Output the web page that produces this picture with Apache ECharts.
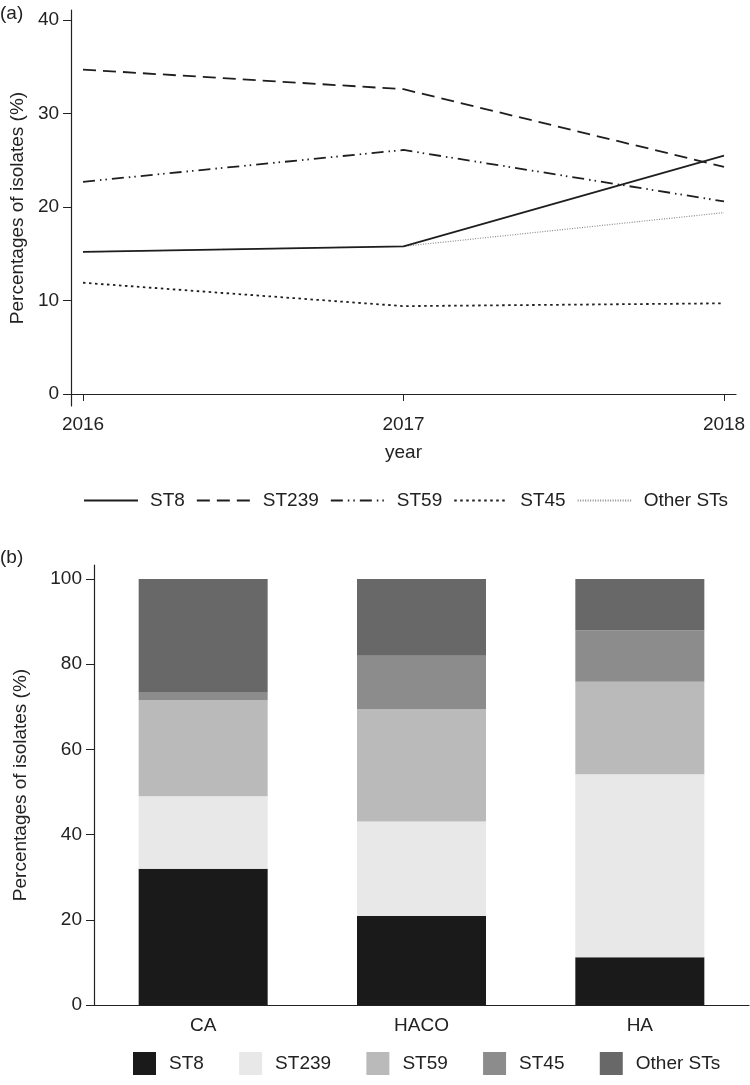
<!DOCTYPE html>
<html>
<head>
<meta charset="utf-8">
<script src="https://cdn.jsdelivr.net/npm/echarts@6/dist/echarts.min.js"></script>
<style>
  html, body { margin: 0; padding: 0; background: #fff; }
  #chart { width: 750px; height: 1085px; }
</style>
</head>
<body>
<div id="chart"></div>
<script>
// (a) yearly share of each ST
const years = [2016, 2017, 2018];
const st8Years = [15.2, 15.8, 25.5];
const st239Years = [34.7, 32.6, 24.3];
const st59Years = [22.7, 26.1, 20.6];
const st45Years = [11.9, 9.4, 9.7];
const otherYears = [15.2, 15.8, 19.4];
const yTicksA = [0, 10, 20, 30, 40];

// (b) share by origin
const origins = ['CA', 'HACO', 'HA'];
const st8Origin = [32.0, 20.9, 11.2];
const st239Origin = [17.0, 22.2, 43.0];
const st59Origin = [22.6, 26.4, 21.7];
const st45Origin = [1.9, 12.5, 12.1];
const otherOrigin = [26.5, 18.0, 12.0];
const yTicksB = [0, 20, 40, 60, 80, 100];

const stNames = ['ST8', 'ST239', 'ST59', 'ST45', 'Other STs'];
const barColors = ['#1a1a1a', '#e8e8e8', '#bababa', '#8c8c8c', '#686868'];

const FONT = 'Liberation Sans, Arial, sans-serif';
const TXT = '#222';
const font = size => ({ fontFamily: FONT, fontSize: size, color: TXT });

const lineStyles = [
    { color: '#1e1e1e', width: 1.8, type: 'solid' },
    { color: '#1e1e1e', width: 1.8, type: [13, 7] },
    { color: '#1e1e1e', width: 1.8, type: [12, 5, 1.5, 4, 1.5, 5] },
    { color: '#1e1e1e', width: 1.8, type: [2.5, 3.5] },
    { color: '#8a8a8a', width: 1.2, type: [1, 1.5] },
];
const lineData = [st8Years, st239Years, st59Years, st45Years, otherYears];
const barData = [st8Origin, st239Origin, st59Origin, st45Origin, otherOrigin];

const chart = echarts.init(document.getElementById('chart'), null, { renderer: 'canvas' });

const option = {
    animation: false,
    backgroundColor: '#fff',
    graphic: [
        { type: 'text', left: 0, top: 4, style: { text: '(a)', ...font(19), fill: TXT } },
        { type: 'text', left: 0, top: 548, style: { text: '(b)', ...font(19), fill: TXT } },
    ],
    grid: [
        { left: 71, right: 14, top: 10, bottom: 679 },
        { left: 94, right: 1, top: 565, bottom: 80 },
    ],
    legend: [
        {
            data: stNames,
            top: 486,
            left: 78,
            itemWidth: 54,
            itemHeight: 20,
            itemGap: 11,
            itemStyle: { color: 'transparent', opacity: 0, borderWidth: 0 },
            textStyle: { ...font(19), padding: [0, 0, 0, 7] },
        },
        {
            data: stNames.map(n => n + ' '),
            top: 1047,
            left: 128,
            itemWidth: 23,
            itemHeight: 23,
            itemGap: 30,
            icon: 'rect',
            textStyle: { ...font(19), padding: [0, 0, 0, 8] },
        },
    ],
    xAxis: [
        {
            gridIndex: 0,
            type: 'value',
            min: 2015.9626,
            max: 2018.0374,
            name: 'year',
            nameLocation: 'middle',
            nameGap: 37,
            nameTextStyle: font(19),
            axisLine: { lineStyle: { color: '#222', width: 1.2 } },
            axisTick: { customValues: years, length: 7, lineStyle: { color: '#222' } },
            axisLabel: { customValues: years, margin: 9, ...font(19), formatter: v => String(v) },
            splitLine: { show: false },
        },
        {
            gridIndex: 1,
            type: 'category',
            data: origins,
            axisLine: { lineStyle: { color: '#222', width: 1.2 } },
            axisTick: { show: false },
            axisLabel: { margin: 11, ...font(19) },
        },
    ],
    yAxis: [
        {
            gridIndex: 0,
            type: 'value',
            min: -1.28,
            max: 41.07,
            name: 'Percentages of isolates (%)',
            nameLocation: 'middle',
            nameGap: 44,
            nameTextStyle: font(19),
            axisLine: { show: true, lineStyle: { color: '#222', width: 1.2 } },
            axisTick: { show: true, customValues: yTicksA, length: 8, lineStyle: { color: '#222' } },
            axisLabel: { customValues: yTicksA, margin: 12, ...font(19) },
            splitLine: { show: false },
        },
        {
            gridIndex: 1,
            type: 'value',
            min: 0,
            max: 103.3,
            name: 'Percentages of isolates (%)',
            nameLocation: 'middle',
            nameGap: 64,
            nameTextStyle: font(19),
            axisLine: { show: true, lineStyle: { color: '#222', width: 1.2 } },
            axisTick: { show: true, customValues: yTicksB, length: 8, lineStyle: { color: '#222' } },
            axisLabel: { customValues: yTicksB, margin: 12, ...font(19) },
            splitLine: { show: false },
        },
    ],
    series: [
        ...stNames.map((name, i) => ({
            name,
            type: 'line',
            xAxisIndex: 0,
            yAxisIndex: 0,
            symbol: 'none',
            z: 10 - i,
            lineStyle: lineStyles[i],
            itemStyle: { color: lineStyles[i].color },
            data: years.map((y, j) => [y, lineData[i][j]]),
        })),
        ...stNames.map((name, i) => ({
            name: name + ' ',
            type: 'bar',
            xAxisIndex: 1,
            yAxisIndex: 1,
            stack: 'origin',
            barWidth: 129,
            itemStyle: { color: barColors[i] },
            data: barData[i],
        })),
    ],
};

chart.setOption(option);
</script>
</body>
</html>
